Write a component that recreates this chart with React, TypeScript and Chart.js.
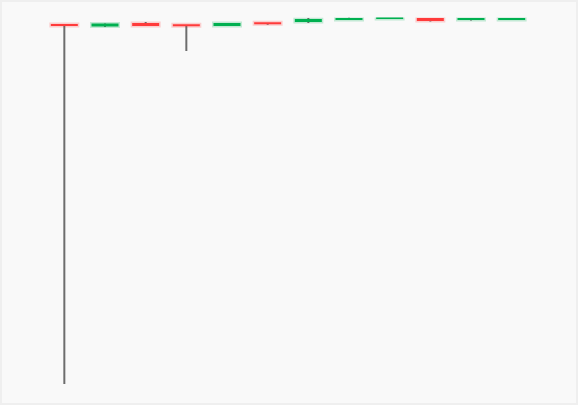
import React, { useEffect, useRef } from "react";
import { Chart, registerables } from "chart.js";

Chart.register(...registerables);

const labels = ["1", "2", "3", "4", "5", "6", "7", "8", "9", "10", "11", "12"];
const opens = [107.95, 107.54, 108.5, 107.7, 107.68, 108.25, 108.77, 109.32, 109.62, 109.86, 109.3, 109.3];
const closes = [107.68, 108.36, 107.68, 107.6, 108.5, 108.18, 109.59, 109.86, 109.78, 109.05, 109.36, 109.36];
const highs = [107.95, 108.36, 108.77, 107.72, 108.5, 108.36, 109.86, 110.0, 109.86, 109.86, 109.36, 109.5];
const lows = [10, 107.41, 107.68, 100.86, 107.68, 108.05, 108.5, 109.32, 109.62, 108.91, 109.18, 109.3];

const UP = "rgb(0,176,80)";
const DOWN = "rgb(255,59,59)";
const UP_HALO = "rgba(0,176,80,0.22)";
const DOWN_HALO = "rgba(255,59,59,0.22)";

export default function App() {
  const ref = useRef<HTMLCanvasElement | null>(null);

  useEffect(() => {
    if (!ref.current) return;
    const isUp = opens.map((o, i) => closes[i] >= o);
    const bodies = opens.map((o, i) => [o, closes[i]]);
    const wicks = lows.map((l, i) => [l, highs[i]]);
    const chart = new Chart(ref.current, {
      type: "bar",
      data: {
        labels,
        datasets: [
          {
            label: "body",
            data: bodies as any,
            backgroundColor: isUp.map((u) => (u ? UP : DOWN)),
            barThickness: 27,
            minBarLength: 2,
            inflateAmount: 0,
            grouped: false,
            order: 0,
          } as any,
          {
            label: "wick",
            data: wicks as any,
            backgroundColor: "rgba(85,85,85,0.85)",
            barThickness: 2,
            inflateAmount: 0,
            grouped: false,
            order: 1,
          } as any,
          {
            label: "halo",
            data: bodies as any,
            backgroundColor: isUp.map((u) => (u ? UP_HALO : DOWN_HALO)),
            barThickness: 27,
            minBarLength: 2,
            inflateAmount: 1.5,
            grouped: false,
            order: 2,
          } as any,
        ],
      },
      options: {
        responsive: false,
        animation: false,
        layout: { padding: { left: 44, right: 48, top: 17.5, bottom: 23 } },
        plugins: { legend: { display: false }, tooltip: { enabled: false } },
        scales: {
          x: { display: false, offset: true, grid: { display: false } },
          y: { display: false, min: 10, max: 110, grid: { display: false } },
        },
      },
    });
    return () => chart.destroy();
  }, []);

  return (
    <div style={{ position: "fixed", left: 0, top: 0, width: 580, height: 407, background: "#ffffff" }}>
      <div
        style={{
          position: "absolute",
          left: 0,
          top: 0,
          width: 578,
          height: 405,
          boxSizing: "border-box",
          border: "2px solid #efefef",
          background: "#f9f9f9",
        }}
      />
      <canvas ref={ref} width={580} height={407} style={{ position: "absolute", left: 0, top: 0, display: "block" }} />
    </div>
  );
}
